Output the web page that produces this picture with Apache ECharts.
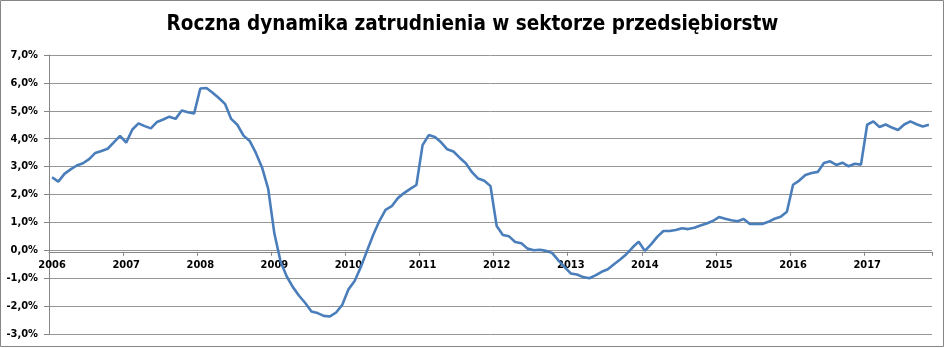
<!DOCTYPE html>
<html>
<head>
<meta charset="utf-8">
<script src="https://cdn.jsdelivr.net/npm/echarts@6/dist/echarts.min.js"></script>
<style>
html,body{margin:0;padding:0;background:#fff;}
#chart{width:945px;height:348px;}
</style>
</head>
<body>
<div id="chart"></div>
<script>
// Tick labels (years) – one label at the first month of each year
const years = ['2006','2007','2008','2009','2010','2011','2012','2013','2014','2015','2016','2017'];
const monthsPerYear = ['01','02','03','04','05','06','07','08','09','10','11','12'];
const lastYearMonths = 11; // data ends in Nov 2017

// Annual employment growth in the enterprise sector, % (monthly, Jan 2006 – Nov 2017)
const values = [
  2.62, 2.46, 2.74, 2.90, 3.04, 3.12, 3.27, 3.49, 3.56, 3.64, 3.87, 4.10,   // 2006
  3.86, 4.33, 4.55, 4.45, 4.37, 4.60, 4.69, 4.79, 4.71, 5.01, 4.95, 4.90,   // 2007
  5.80, 5.82, 5.65, 5.46, 5.25, 4.71, 4.50, 4.11, 3.92, 3.49, 2.97, 2.20,   // 2008
  0.60, -0.40, -0.94, -1.32, -1.63, -1.89, -2.19, -2.25, -2.35, -2.37, -2.23, -1.95, // 2009
  -1.40, -1.10, -0.60, -0.02, 0.55, 1.05, 1.45, 1.58, 1.87, 2.05, 2.20, 2.34, // 2010
  3.77, 4.13, 4.06, 3.87, 3.62, 3.54, 3.32, 3.12, 2.80, 2.57, 2.49, 2.30,   // 2011
  0.87, 0.55, 0.50, 0.30, 0.25, 0.06, 0.00, 0.02, -0.02, -0.10, -0.36, -0.60, // 2012
  -0.83, -0.87, -0.96, -1.00, -0.90, -0.77, -0.68, -0.50, -0.33, -0.14, 0.10, 0.31, // 2013
  -0.02, 0.21, 0.48, 0.69, 0.69, 0.73, 0.79, 0.76, 0.81, 0.89, 0.96, 1.05,  // 2014
  1.19, 1.13, 1.08, 1.04, 1.12, 0.94, 0.94, 0.94, 1.02, 1.13, 1.20, 1.38,   // 2015
  2.35, 2.50, 2.70, 2.77, 2.81, 3.13, 3.19, 3.06, 3.14, 3.01, 3.10, 3.07,   // 2016
  4.50, 4.62, 4.42, 4.51, 4.40, 4.31, 4.51, 4.62, 4.52, 4.44, 4.50         // 2017
];

const yMin = -3, yMax = 7, yStep = 1;

const categories = [];
years.forEach((y, yi) => {
  const n = (yi === years.length - 1) ? lastYearMonths : 12;
  for (let m = 0; m < n; m++) categories.push(y + '-' + monthsPerYear[m]);
});

const chart = echarts.init(document.getElementById('chart'), null, {renderer: 'canvas'});
const fontTitle = "'DejaVu Sans Condensed', 'DejaVu Sans', sans-serif";
const fontAxis = "'DejaVu Sans Condensed', 'DejaVu Sans', sans-serif";
chart.setOption({
  animation: false,
  backgroundColor: '#ffffff',
  title: {
    text: 'Roczna dynamika zatrudnienia w sektorze przedsiębiorstw',
    left: 'center',
    top: 9,
    textStyle: {
      fontFamily: fontTitle,
      fontWeight: 'bold',
      fontSize: 20.5,
      color: '#000000'
    }
  },
  graphic: [{
    type: 'rect',
    shape: {x: 0.5, y: 0.5, width: 943, height: 346},
    style: {fill: 'none', stroke: '#868686', lineWidth: 1},
    silent: true
  }],
  grid: {left: 49, right: 13, top: 55, bottom: 14, containLabel: false},
  xAxis: {
    type: 'category',
    data: categories,
    boundaryGap: true,
    position: 'bottom',
    offset: 0,
    axisLine: {show: true, onZero: false, lineStyle: {color: '#868686', width: 1}},
    axisTick: {
      show: true,
      length: 4,
      interval: (i) => i % 12 === 0,
      lineStyle: {color: '#868686'}
    },
    axisLabel: {
      interval: (i) => i % 12 === 0,
      formatter: (v) => v.slice(0, 4),
      margin: 8,
      fontFamily: fontAxis,
      fontWeight: 'bold',
      fontSize: 11,
      color: '#000000'
    },
    splitLine: {show: false}
  },
  yAxis: {
    type: 'value',
    min: yMin,
    max: yMax,
    interval: yStep,
    axisLine: {show: true, lineStyle: {color: '#868686', width: 1}},
    axisTick: {show: true, length: 5, lineStyle: {color: '#868686'}},
    axisLabel: {
      formatter: (v) => v.toFixed(1).replace('.', ',') + '%',
      margin: 11,
      fontFamily: fontAxis,
      fontWeight: 'bold',
      fontSize: 11,
      color: '#000000'
    },
    splitLine: {show: true, lineStyle: {color: '#969696', width: 1}}
  },
  series: [{
    type: 'line',
    data: values,
    symbol: 'none',
    smooth: false,
    lineStyle: {color: '#4A7EBB', width: 2.6},
    z: 3
  }]
});
// Move the category axis up to the zero line (as in the reference)
const zeroY = chart.convertToPixel({yAxisIndex: 0}, 0);
const bottomY = chart.convertToPixel({yAxisIndex: 0}, yMin);
chart.setOption({xAxis: {offset: zeroY - bottomY}});
</script>
</body>
</html>
